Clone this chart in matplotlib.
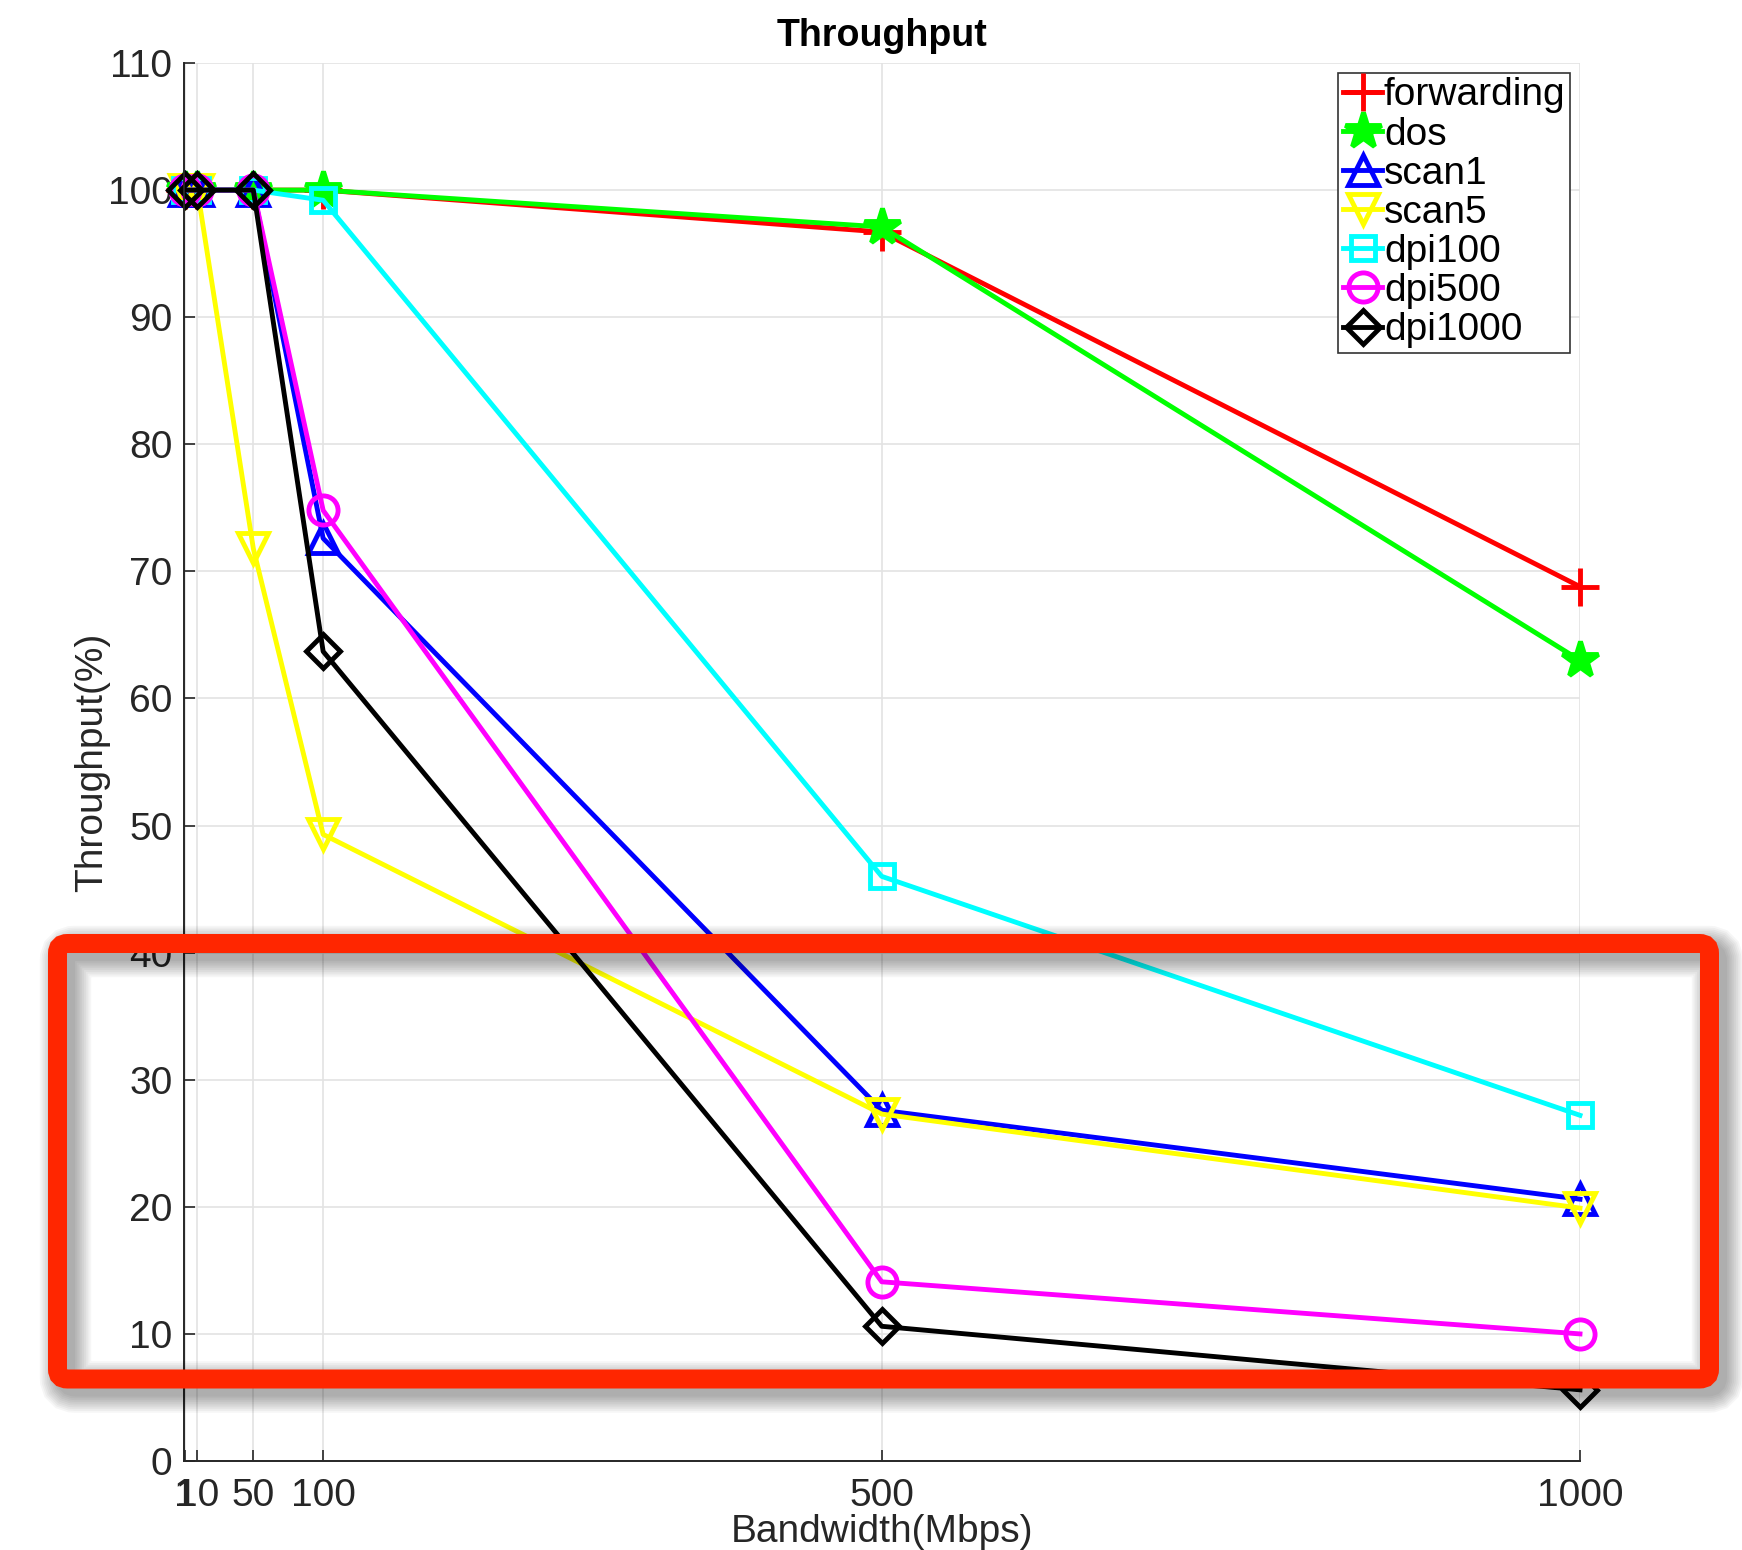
import matplotlib
matplotlib.use("Agg")
import matplotlib.pyplot as plt
from matplotlib.patches import FancyBboxPatch
from matplotlib.transforms import IdentityTransform

plt.rcParams['font.family'] = ['Liberation Sans', 'DejaVu Sans']

bandwidth = [1, 10, 50, 100, 500, 1000]
series_names = ["forwarding", "dos", "scan1", "scan5", "dpi100", "dpi500", "dpi1000"]
forwarding = [100, 100, 100, 100, 96.7, 68.8]
dos = [100, 100, 100, 100, 97.1, 63.0]
scan1 = [100, 100, 100, 72.6, 27.6, 20.6]
scan5 = [100, 100, 71.8, 49.3, 27.3, 19.9]
dpi100 = [100, 100, 100, 99.2, 46.0, 27.2]
dpi500 = [100, 100, 100, 74.8, 14.1, 10.0]
dpi1000 = [100, 100, 100, 63.7, 10.6, 5.6]
x_ticks = [1, 10, 50, 100, 500, 1000]
y_ticks = list(range(0, 111, 10))

colors = ["#ff0000", "#00ff00", "#0000ff", "#ffff00", "#00ffff", "#ff00ff", "#000000"]
markers = ["+", "*", "^", "v", "s", "o", "D"]
msizes = [27, 27, 21, 21, 17, 21, 17]

W, H = 1742, 1550
fig = plt.figure(figsize=(W / 100, H / 100), dpi=100)
ax = fig.add_axes([183.5 / W, 1 - 1461 / H, (1580 - 183.5) / W, (1461 - 63) / H])

data = [forwarding, dos, scan1, scan5, dpi100, dpi500, dpi1000]
for name, ys, c, m, ms in zip(series_names, data, colors, markers, msizes):
    if m in ("+", "*"):
        ax.plot(bandwidth, ys, color=c, marker=m, markersize=ms, markeredgewidth=3.5,
                linewidth=3.5, label=name, clip_on=False)
    else:
        ax.plot(bandwidth, ys, color=c, marker=m, markersize=ms, markeredgewidth=3.5,
                markerfacecolor="none", linewidth=3.5, label=name, clip_on=False)

ax.set_xlim(0, 1000)
ax.set_ylim(0, 110)
ax.set_xticks(x_ticks)
ax.set_yticks(y_ticks)
ax.tick_params(labelsize=28, colors="#262626", direction="in", length=8, width=1.2)
ax.tick_params(axis="x", pad=12)
ax.tick_params(axis="y", pad=8)
ax.grid(True, color="#e3e3e3", linewidth=1.2)
ax.set_axisbelow(True)
for s in ("top", "right"):
    ax.spines[s].set_visible(False)
for s in ("left", "bottom"):
    ax.spines[s].set_linewidth(1.4)
    ax.spines[s].set_color("#262626")

ax.set_title("Throughput", fontsize=27, fontweight="bold", pad=12)
ax.set_xlabel("Bandwidth(Mbps)", fontsize=28, color="#262626", labelpad=0)
ax.set_ylabel("Throughput(%)", fontsize=28, color="#262626", labelpad=-2)

leg = ax.legend(loc="upper right", bbox_to_anchor=(0.993, 0.993), fontsize=28,
                handlelength=1.0, handletextpad=0.05, borderpad=0.12, labelspacing=0.08,
                borderaxespad=0.0, fancybox=False, framealpha=1, edgecolor="#333333",
                markerscale=1.0)
leg.get_frame().set_linewidth(1.2)

# red annotation box with soft shadow (display pixel coords)
x0, x1 = 57.5, 1709.5
y0, y1 = H - 1379, H - 943.5
nsh = 10
for i in range(nsh):
    off = 8
    sh = FancyBboxPatch((x0 + off, y0 - off), x1 - x0, y1 - y0,
                        boxstyle="round,pad=0,rounding_size=10",
                        transform=IdentityTransform(), fill=False,
                        edgecolor="black", linewidth=13.7 + i * 2.6, alpha=0.035, zorder=20)
    fig.patches.append(sh)
box = FancyBboxPatch((x0, y0), x1 - x0, y1 - y0, boxstyle="round,pad=0,rounding_size=10",
                     transform=IdentityTransform(), fill=False, edgecolor="#ff2600",
                     linewidth=19 * 0.72, zorder=21)
fig.patches.append(box)

fig.savefig("out.png", dpi=100)
